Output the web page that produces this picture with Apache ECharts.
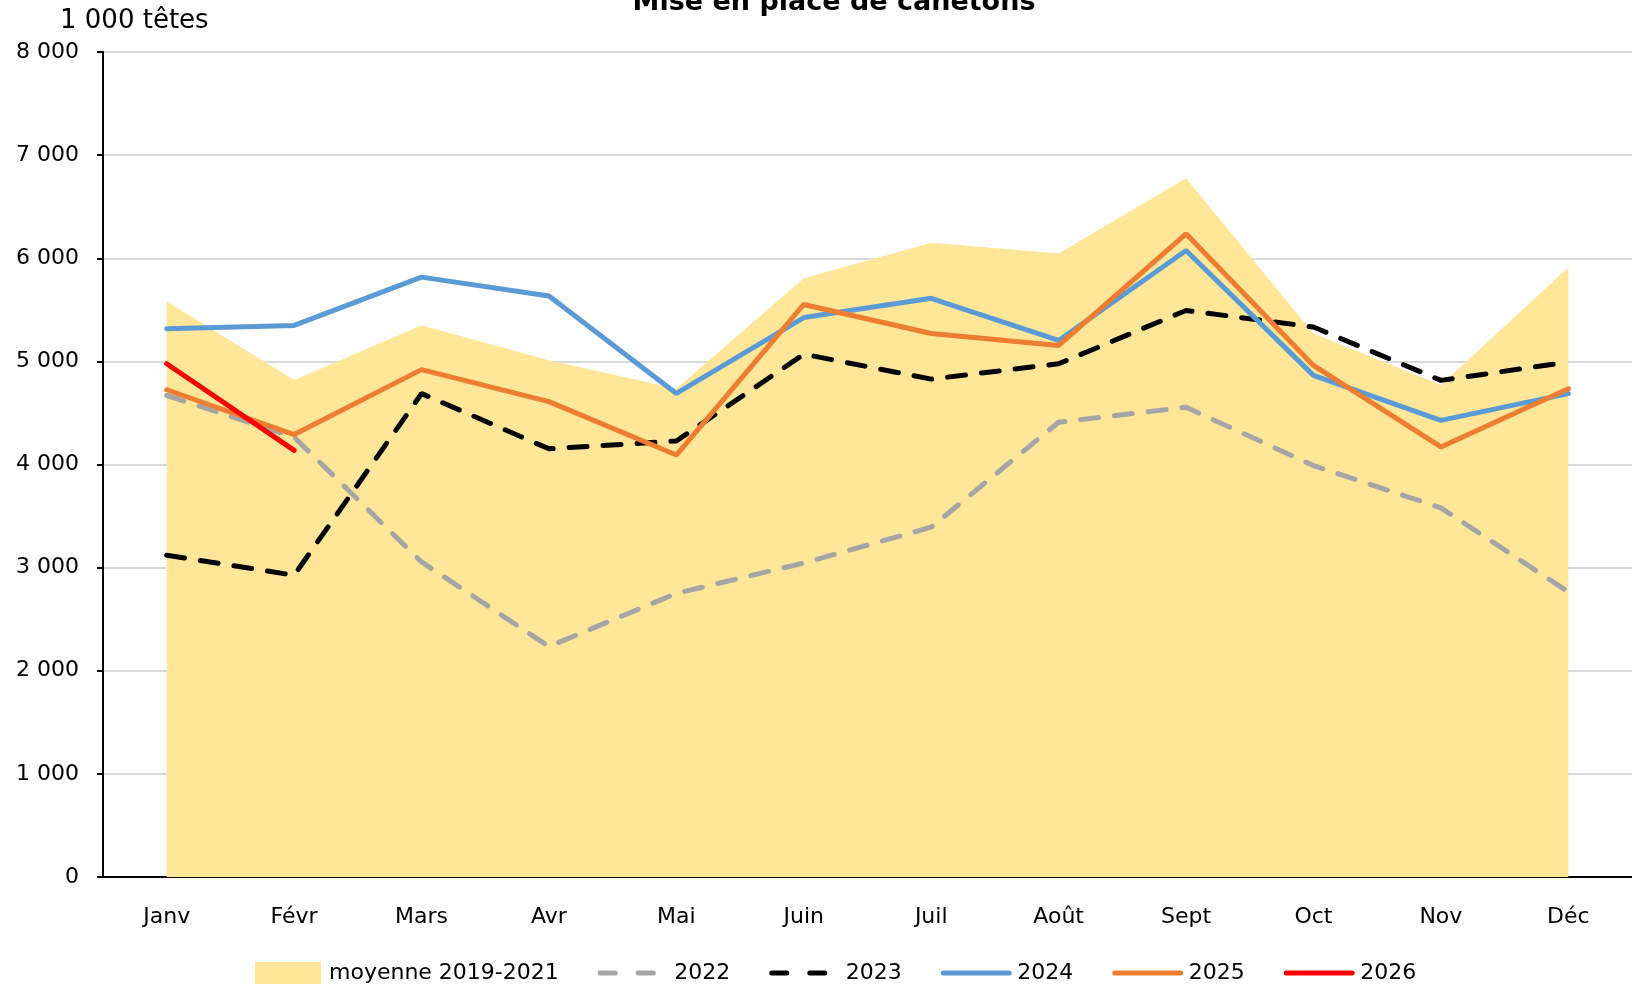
<!DOCTYPE html>
<html>
<head>
<meta charset="UTF-8">
<title>Mise en place de canetons</title>
<script src="https://cdn.jsdelivr.net/npm/echarts@6/dist/echarts.min.js"></script>
<style>
    html, body { margin: 0; padding: 0; background: #fff; }
    #chart { width: 1632px; height: 986px; }
</style>
</head>
<body>
<div id="chart"></div>
<script type="text/javascript">
    // données (1 000 têtes)
    var mois = ['Janv', 'Févr', 'Mars', 'Avr', 'Mai', 'Juin', 'Juil', 'Août', 'Sept', 'Oct', 'Nov', 'Déc'];
    var moyenne = [5580, 4820, 5350, 5010, 4735, 5805, 6150, 6045, 6775, 5270, 4770, 5910];
    var v2022 = [4670, 4265, 3055, 2235, 2750, 3045, 3392, 4410, 4555, 3990, 3580, 2765];
    var v2023 = [3120, 2926, 4688, 4152, 4228, 5070, 4828, 4977, 5494, 5333, 4816, 4993];
    var v2024 = [5316, 5349, 5817, 5633, 4689, 5425, 5612, 5203, 6075, 4864, 4428, 4687];
    var v2025 = [4725, 4290, 4920, 4610, 4092, 5552, 5270, 5155, 6237, 4961, 4170, 4735];
    var v2026 = [4977, 4137];
    var ticks = [0, 1000, 2000, 3000, 4000, 5000, 6000, 7000, 8000];

    var police = 'DejaVu Sans';
    var myChart = echarts.init(document.getElementById('chart'));

    function milliers(v) {
        return String(v).replace(/\B(?=(\d{3})+(?!\d))/g, ' ');
    }

    function ligne(nom, data, couleur, pointille) {
        return {
            name: nom,
            type: 'line',
            data: data,
            symbol: 'none',
            z: 3,
            lineStyle: {
                color: couleur,
                width: 5,
                type: pointille ? [18, 16] : 'solid',
                cap: 'round'
            },
            itemStyle: { color: couleur }
        };
    }

    // entrée de légende : trait seul, le rond est masqué
    function entree(nom, couleur, pointille) {
        return {
            name: nom,
            itemStyle: { color: couleur, opacity: 0 },
            lineStyle: { color: couleur, width: 5, type: pointille ? [15, 23] : 'solid', cap: 'round' }
        };
    }

    var option = {
        backgroundColor: '#fff',
        animation: false,
        textStyle: { fontFamily: police },
        title: {
            text: 'Mise en place de canetons',
            left: 829,
            textAlign: 'center',
            top: -16,
            textStyle: { fontFamily: police, fontSize: 27, fontWeight: 'bold', color: '#000' }
        },
        graphic: [{
            type: 'text',
            left: 60,
            top: 8,
            style: { text: '1 000 têtes', font: '26px "DejaVu Sans"', fill: '#000' }
        }],
        grid: { left: 103, right: 0, top: 52, bottom: 109, containLabel: false },
        legend: {
            top: 957,
            left: 250,
            itemWidth: 66,
            itemHeight: 22,
            itemGap: 39,
            textStyle: { fontFamily: police, fontSize: 22, color: '#000', padding: [0, 0, 0, 3] },
            data: [
                { name: 'moyenne 2019-2021', icon: 'rect', itemStyle: { color: '#FFE699' } },
                entree('2022', '#A5A5A5', true),
                entree('2023', '#000000', true),
                entree('2024', '#5B9BD5', false),
                entree('2025', '#ED7D31', false),
                entree('2026', '#FF0000', false)
            ]
        },
        xAxis: {
            type: 'category',
            data: mois,
            boundaryGap: true,
            axisLine: { lineStyle: { color: '#000', width: 2 } },
            axisTick: { show: false },
            axisLabel: { fontSize: 22, color: '#000', margin: 29, fontFamily: police }
        },
        yAxis: {
            type: 'value',
            min: ticks[0],
            max: ticks[ticks.length - 1],
            interval: 1000,
            axisLine: { show: true, lineStyle: { color: '#000', width: 2 } },
            axisTick: { show: true, length: 6, lineStyle: { color: '#000', width: 2 } },
            splitLine: { lineStyle: { color: '#D9D9D9', width: 2 } },
            axisLabel: {
                fontSize: 22, color: '#000', margin: 24, fontFamily: police,
                formatter: function (v) { return milliers(v); }
            }
        },
        series: [
            {
                name: 'moyenne 2019-2021',
                type: 'line',
                data: moyenne,
                symbol: 'none',
                z: 1,
                lineStyle: { width: 0, color: '#FFE699' },
                itemStyle: { color: '#FFE699' },
                areaStyle: { color: '#FFE699', opacity: 1 }
            },
            ligne('2022', v2022, '#A5A5A5', true),
            ligne('2023', v2023, '#000000', true),
            ligne('2024', v2024, '#5B9BD5', false),
            ligne('2025', v2025, '#ED7D31', false),
            ligne('2026', v2026, '#FF0000', false)
        ]
    };
    myChart.setOption(option);
</script>
</body>
</html>
